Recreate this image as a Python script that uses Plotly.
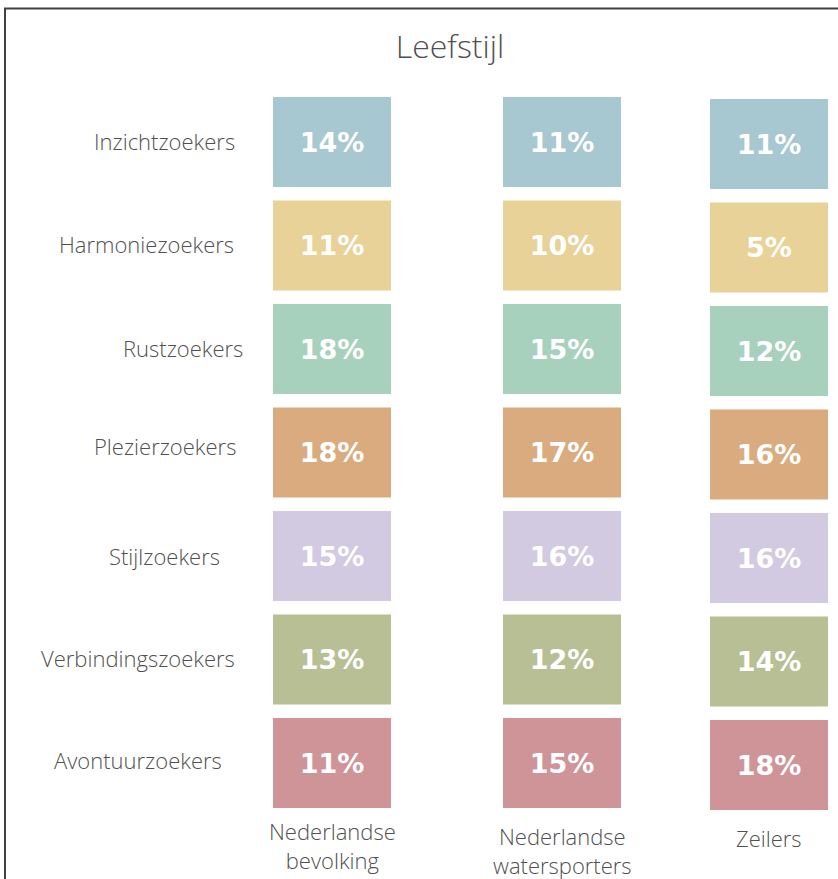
import plotly.graph_objects as go

# ---- data ----
lifestyles = ["Inzichtzoekers", "Harmoniezoekers", "Rustzoekers", "Plezierzoekers",
              "Stijlzoekers", "Verbindingszoekers", "Avontuurzoekers"]
groups = ["Nederlandse<br>bevolking", "Nederlandse<br>watersporters", "Zeilers"]
nl_bevolking = [14, 11, 18, 18, 15, 13, 11]
nl_watersporters = [11, 10, 15, 17, 16, 12, 15]
zeilers = [11, 5, 12, 16, 16, 14, 18]
series = [nl_bevolking, nl_watersporters, zeilers]

# ---- styling / layout ----
colors = ["#A7C7D1", "#E8D297", "#A7D1BC", "#D9AB7E", "#D2CAE1", "#B8BF94", "#CE9497"]
col_pos = [0.0, 1.0, 1.9]          # column centres (x axis units)
col_yshift = [0.0, 0.0, 0.02]
tile_w = 0.513
tile_h = 0.87
label_px_x = [164.5, 146.5, 182.5, 165, 164, 138, 138]
label_yshift = [1, 2, 1, 7, 0, 2, 3]
group_label_py = [845, 850, 838]
W, H = 838, 879
FONT = "Open Sans"
GREY = "#505050"

fig = go.Figure()
for i, name in enumerate(lifestyles):
    vals = [s[i] for s in series]
    fig.add_trace(go.Bar(
        x=col_pos,
        y=[tile_h] * len(col_pos),
        base=[i - tile_h / 2 + col_yshift[j] for j in range(len(col_pos))],
        width=tile_w,
        marker=dict(color=colors[i], line=dict(width=0)),
        text=[f"{v}%" for v in vals],
        textposition="inside",
        insidetextanchor="middle",
        textangle=0,
        textfont=dict(family="DejaVu Sans", size=27, color="white", weight="bold"),
        name=name,
        showlegend=False,
        hoverinfo="skip",
    ))

annotations = []
for i, name in enumerate(lifestyles):
    annotations.append(dict(
        text=name, xref="paper", yref="y", x=label_px_x[i] / W, y=i,
        xanchor="center", yanchor="middle", yshift=label_yshift[i], showarrow=False,
        font=dict(family=FONT, size=22, color=GREY, weight=300)))
for j, g in enumerate(groups):
    annotations.append(dict(
        text=g, xref="x", yref="paper", x=col_pos[j], y=1 - group_label_py[j] / H,
        xanchor="center", yanchor="middle", showarrow=False,
        font=dict(family=FONT, size=22, color=GREY, weight=300)))

fig.update_layout(
    width=W, height=H,
    margin=dict(l=0, r=0, t=0, b=0),
    paper_bgcolor="white", plot_bgcolor="white",
    title=dict(text="Leefstijl", x=450 / W, y=1 - 47 / H, xanchor="center", yanchor="middle",
               font=dict(family=FONT, size=32, color=GREY, weight=300)),
    xaxis=dict(range=[-332 / 230, (W - 332) / 230], visible=False, fixedrange=True),
    yaxis=dict(range=[(H - 142) / 103.5, -142 / 103.5], visible=False, fixedrange=True),
    barmode="overlay",
    annotations=annotations,
    shapes=[dict(type="rect", xref="paper", yref="paper",
                 x0=5 / W, x1=1.05, y0=-0.05, y1=1 - 8.5 / H,
                 line=dict(color="#404040", width=2), fillcolor="rgba(0,0,0,0)", layer="above")],
)

fig.write_html("out.html", config={"displayModeBar": False},
               post_script="document.body.style.margin='0';document.body.style.overflow='hidden';")
